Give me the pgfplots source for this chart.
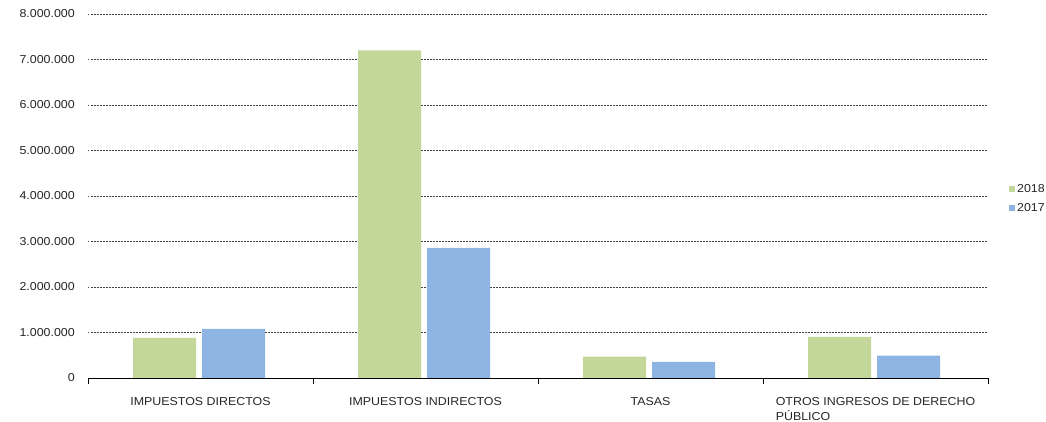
\documentclass[border=0pt]{standalone}
\usepackage{pgfplots}
\pgfplotsset{compat=1.18}
\usepackage{fontspec}
\setmainfont{Liberation Sans}[FakeStretch=1.08]
\definecolor{g18}{RGB}{196,215,155}
\definecolor{b17}{RGB}{142,180,227}
\begin{document}
\begin{tikzpicture}[x=1pt,y=1pt]
\path[use as bounding box] (0,0) rectangle (1046,422);
\begin{axis}[
  at={(88pt,44pt)}, anchor=south west,
  width=900pt, height=364pt, scale only axis,
  xmin=-0.5, xmax=3.5, ymin=0, ymax=8000000,
  ybar,
  ytick={0,1000000,2000000,3000000,4000000,5000000,6000000,7000000,8000000},
  scaled y ticks=false,
  /pgf/number format/assume math mode=true,
  /pgf/number format/fixed,
  /pgf/number format/1000 sep={.},
  yticklabel style={inner sep=0pt, anchor=east, xshift=-13pt},
  ymajorgrids, grid style={black!75, line width=0.55pt, dash pattern=on 1.5pt off 1.5pt},
  axis x line*=bottom, axis y line*=left,
  y axis line style={draw=none},
  ytick style={draw=none},
  x axis line style={black, line width=0.8pt},
  xtick={0,1,2,3},
  xticklabels={IMPUESTOS DIRECTOS, IMPUESTOS INDIRECTOS, TASAS, {\vtop{\baselineskip=15pt\hbox{OTROS INGRESOS DE DERECHO}\hbox{PÚBLICO}}}},
  major x tick style={draw=none},
  minor xtick={-0.5,0.5,1.5,2.5,3.5},
  minor x tick style={black, line width=0.8pt},
  minor tick length=6pt,
  xtick align=outside,
  xticklabel style={anchor=base, inner sep=0pt, yshift=-23pt},
  tick label style={font=\fontsize{11.5}{15}\selectfont, text=black!85},
  legend style={draw=none, fill=none, at={(axis description cs:1.0233,0.493)}, anchor=west,
    font=\fontsize{11.5}{14}\selectfont, text=black!85, inner sep=0pt, row sep=5pt,
    /tikz/every even column/.append style={column sep=2pt}},
  legend cell align=left,
  legend image code/.code={\fill[#1] (0pt,-3pt) rectangle (6pt,3pt);},
]
\addplot[fill=g18, draw=none, bar width=63pt, bar shift=-36pt] coordinates {(0,884000) (1,7200000) (2,467000) (3,906000)};
\addplot[fill=b17, draw=none, bar width=63pt, bar shift=33pt] coordinates {(0,1080000) (1,2860000) (2,355000) (3,490000)};
\legend{2018,2017}
\end{axis}
\end{tikzpicture}
\end{document}
